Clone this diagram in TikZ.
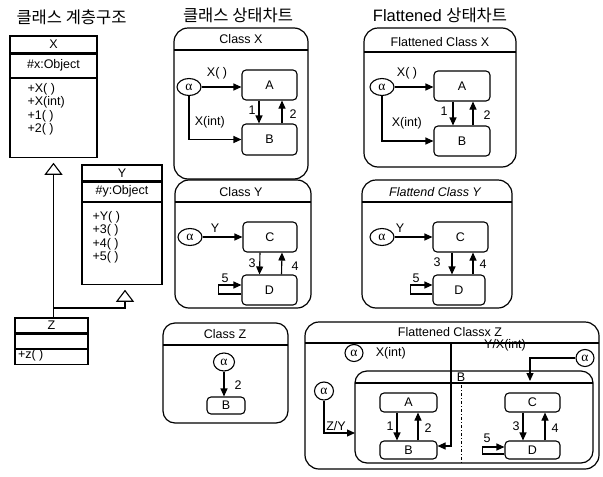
\documentclass[tikz,border=0pt]{standalone}
\usepackage{fontspec}
\setmainfont{Liberation Sans}
\newfontfamily\krfont{Noto Sans CJK KR}
\newfontfamily\grfont{Liberation Serif}
\usetikzlibrary{arrows.meta,positioning,shapes.geometric}

\newcommand{\alp}{{\grfont\fontsize{13.5}{14}\selectfont α}}

\begin{document}
\begin{tikzpicture}[x=1pt, y=-1pt, line width=1.1pt,
  font=\fontsize{12.5}{13.3}\selectfont,
  tr/.style={-{Triangle[length=8pt,width=7pt]}},
  inh/.style={-{Triangle[open,length=12pt,width=18pt]}, shorten >=5pt},
  chart/.style={draw, rounded corners=14pt, line width=1.2pt},
  state/.style={draw, rounded corners=4pt, inner sep=0pt,
    minimum width=55pt, minimum height=30pt},
  init/.style={draw, ellipse, inner sep=0pt, minimum width=24pt, minimum height=17pt},
  cell/.style={draw, inner sep=0pt},
  ops/.style={anchor=north west, align=left, inner sep=0pt},
  head/.style={font=\fontsize{16.5}{18}\selectfont}]

  \useasboundingbox (0,0) rectangle (603,477);

  % --- 1. 제목 ---
  \node[head] (h1) at (71.5,17) {\krfont 클래스 계층구조};
  \node[head] (h2) at (238,15) {\krfont 클래스 상태차트};
  \node[head] (h3) at (440,15) {Flattened {\krfont 상태차트}};

  % --- 2. 클래스 계층구조 ---
  \node[cell, minimum width=87pt, minimum height=17pt] (Xn) at (53.5,44.5) {X};
  \node[cell, minimum width=87pt, minimum height=23pt, below=0pt of Xn] (Xa) {\#x:Object};
  \node[cell, minimum width=87pt, minimum height=79pt, below=0pt of Xa] (Xo) {};
  \node[ops] (Xt) at (27,83) {+X( )\\+X(int)\\+1( )\\+2( )};

  \node[cell, minimum width=80pt, minimum height=16pt] (Yn) at (122,173) {Y};
  \node[cell, minimum width=80pt, minimum height=19pt, below=0pt of Yn] (Ya) {\#y:Object};
  \node[cell, minimum width=80pt, minimum height=82pt, below=0pt of Ya] (Yo) {};
  \node[ops] (Yt) at (92,211) {+Y( )\\+3( )\\+4( )\\+5( )};

  \node[cell, minimum width=73pt, minimum height=15pt] (Zn) at (51.5,325.5) {Z};
  \node[cell, minimum width=73pt, minimum height=14pt, below=0pt of Zn] (Za) {};
  \node[cell, minimum width=73pt, minimum height=15pt, below=0pt of Za] (Zo) {};
  \node[ops, anchor=west] (Zt) at (17.5,355) {+z( )};

  % 상속 관계
  \draw[inh] (Zn.north -| Xo.south) -- (Xo.south);
  \coordinate (jn) at (53.5,308);
  \draw[inh] (jn) -| ([xshift=3pt]Yo.south);

  % --- 3. Class X ---
  \draw[chart] (174,28) rectangle (308,179);
  \draw (174,50) -- (308,50);
  \node (tX) at (241,39) {Class X};
  \node[init] (aX) at (189,87) {\alp};
  \node[state] (AX) at (269.5,85) {A};
  \node[state, minimum height=31pt] (BX) at (269.5,139.5) {B};
  \draw[tr] (aX) -- (aX -| AX.west);
  \draw[tr] (aX.south) |- (BX.west);
  \draw[tr] ([xshift=-10.5pt]AX.south) -- ([xshift=-10.5pt]BX.north);
  \draw[tr] ([xshift=12.5pt]BX.north) -- ([xshift=12.5pt]AX.south);
  \node (lX1) at (217,73) {X( )};
  \node[anchor=west] (lX2) at (191,122) {X(int)};
  \node (lX3) at (252,110) {1};
  \node (lX4) at (293,114) {2};

  % --- 4. Flattened Class X ---
  \draw[chart] (364,28) rectangle (516,167);
  \draw (364,52) -- (516,52);
  \node (tFX) at (440,42) {Flattened Class X};
  \node[init] (aFX) at (382,87) {\alp};
  \node[state, minimum width=56pt] (AFX) at (462,86) {A};
  \node[state, minimum width=56pt] (BFX) at (462,141) {B};
  \draw[tr] (aFX) -- (aFX -| AFX.west);
  \draw[tr] (aFX.south) |- (BFX.west);
  \draw[tr] ([xshift=-9pt]AFX.south) -- ([xshift=-9pt]BFX.north);
  \draw[tr] ([xshift=11pt]BFX.north) -- ([xshift=11pt]AFX.south);
  \node (lFX1) at (407,73) {X( )};
  \node[anchor=west] (lFX2) at (388,123) {X(int)};
  \node (lFX3) at (444,111) {1};
  \node (lFX4) at (487,115) {2};

  % --- 5. Class Y ---
  \draw[chart] (175,180) rectangle (311,308);
  \draw (175,202) -- (311,202);
  \node (tY) at (241,192) {Class Y};
  \node[init] (aY) at (190,237) {\alp};
  \node[state, minimum width=54pt] (CY) at (270,237) {C};
  \node[state] (DY) at (269.5,290) {D};
  \draw[tr] (aY) -- (CY);
  \draw[tr] ([xshift=-10pt]CY.south) -- ([xshift=-10pt]DY.north);
  \draw[tr] ([xshift=12pt]DY.north) -- ([xshift=12pt]CY.south);
  \draw[tr] ([yshift=-4pt]DY.west) -- ++(-23,0) |- ([yshift=5pt]DY.west);
  \node (lY1) at (215,228) {Y};
  \node (lY2) at (252,263) {3};
  \node (lY3) at (295,266) {4};
  \node (lY4) at (225,278) {5};

  % --- 6. Flattend Class Y ---
  \draw[chart] (362,180) rectangle (512,308);
  \draw (362,202) -- (512,202);
  \node[font=\fontsize{12.5}{13.3}\selectfont\itshape] (tFY) at (435,192) {Flattend Class Y};
  \node[init] (aFY) at (382,237) {\alp};
  \node[state] (CFY) at (460.5,237) {C};
  \node[state, minimum width=52pt] (DFY) at (459,290) {D};
  \draw[tr] (aFY) -- (CFY);
  \draw[tr] ([xshift=-8.5pt]CFY.south) -- ([xshift=-7pt]DFY.north);
  \draw[tr] ([xshift=14pt]DFY.north) -- ([xshift=12.5pt]CFY.south);
  \draw[tr] ([yshift=-4pt]DFY.west) -- ++(-22,0) |- ([yshift=5pt]DFY.west);
  \node (lFY1) at (400,228) {Y};
  \node (lFY2) at (437,262) {3};
  \node (lFY3) at (483,264) {4};
  \node (lFY4) at (416,278) {5};

  % --- 7. Class Z ---
  \draw[chart, rounded corners=12pt] (163,323) rectangle (288,423);
  \draw (163,345) -- (288,345);
  \node (tZ) at (225,334) {Class Z};
  \node[init, minimum width=21pt, minimum height=18pt] (aZ) at (224,362) {\alp};
  \node[state, minimum width=38pt, minimum height=17pt] (BZ) at (226,405.5) {B};
  \draw[tr] (aZ.south) -- (aZ.south |- BZ.north);
  \node (lZ1) at (238,385) {2};

  % --- 8. Flattened Classx Z ---
  \draw[chart] (305,322) rectangle (599,469);
  \draw (305,343) -- (599,343);
  \node (tFZ) at (450,332) {Flattened Classx Z};
  % 복합 상태 B
  \draw[chart, rounded corners=12pt] (355,371) rectangle (593,463);
  \draw (355,383) -- (593,383);
  \node (nB) at (461,377) {B};
  \draw[line width=0.8pt, dash pattern=on 3pt off 2pt on 1pt off 2pt] (nB.south) -- (461,463);

  \node[init, minimum width=18pt] (a1) at (354,353) {\alp};
  \node[anchor=west] (lFZ1) at (372,353) {X(int)};
  \node[init, minimum width=18pt] (a2) at (585,358) {\alp};
  \node (lFZ2) at (505,345) {Y/X(int)};
  \node[init, minimum width=19pt, minimum height=18pt] (a3) at (324,391) {\alp};
  \node (lFZ3) at (336,426) {Z/Y};

  \node[state, minimum width=57pt, minimum height=19pt] (AFZ) at (408.5,402.5) {A};
  \node[state, minimum width=57pt, minimum height=18pt] (BFZ) at (408.5,450) {B};
  \node[state, minimum width=55pt, minimum height=19pt] (CFZ) at (532.5,402.5) {C};
  \node[state, minimum width=55pt, minimum height=18pt] (DFZ) at (532.5,450) {D};

  \coordinate (xin) at (451,343);
  \coordinate (yxin) at (530,381);
  \coordinate (zin) at (355,433);
  \draw[tr] (xin) |- ([yshift=4pt]BFZ.east);
  \draw[tr] (a2.west) -| (yxin);
  \draw[tr] (a3.south) |- (zin);

  \draw[tr] ([xshift=-11.5pt]AFZ.south) -- ([xshift=-11.5pt]BFZ.north);
  \draw[tr] ([xshift=9.5pt]BFZ.north) -- ([xshift=9.5pt]AFZ.south);
  \draw[tr] ([xshift=-9.5pt]CFZ.south) -- ([xshift=-9.5pt]DFZ.north);
  \draw[tr] ([xshift=12.5pt]DFZ.north) -- ([xshift=12.5pt]CFZ.south);
  \draw[tr] ([yshift=-4pt]DFZ.west) -- ++(-22,0) |- ([yshift=3pt]DFZ.west);
  \node (lFZ4) at (390,426) {1};
  \node (lFZ5) at (428,428) {2};
  \node (lFZ6) at (516,426) {3};
  \node (lFZ7) at (555,428) {4};
  \node (lFZ8) at (487,438) {5};
\end{tikzpicture}
\end{document}
